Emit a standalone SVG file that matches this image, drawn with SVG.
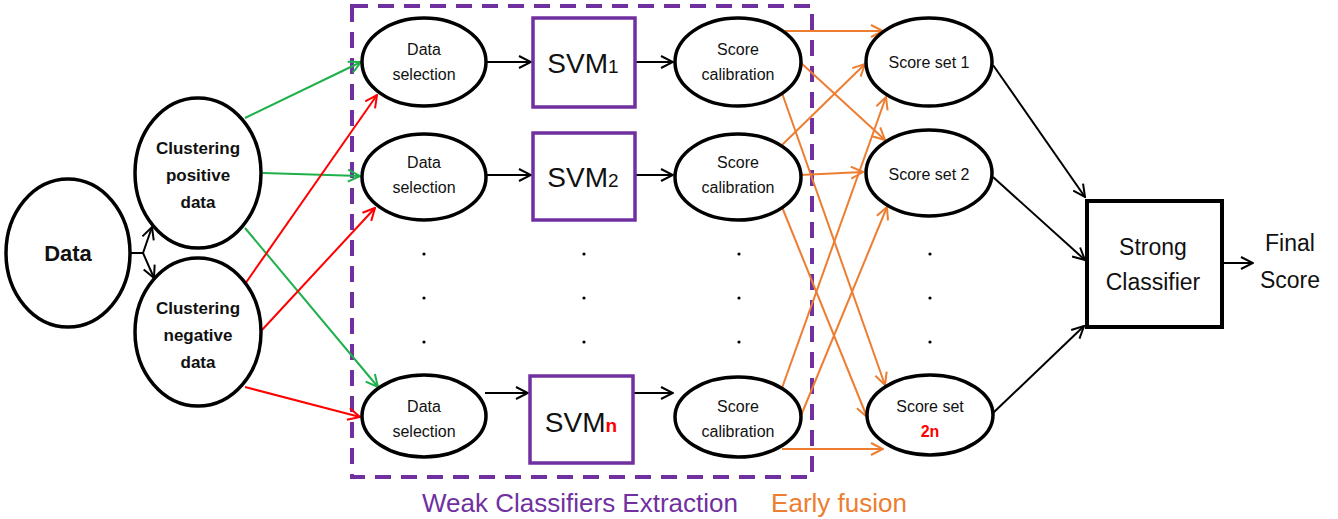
<svg xmlns="http://www.w3.org/2000/svg" width="1338" height="519" viewBox="0 0 1338 519">
<style>
text{font-family:"Liberation Sans",Arial,sans-serif;fill:#111;text-anchor:middle}
.node{fill:#fff;stroke:#000;stroke-width:3.5}
.svm{fill:#fff;stroke:#7030A0;stroke-width:3.5}
.sm{font-size:16px}
.bold{font-weight:bold}
.svmt{font-size:28px}
.k{stroke:#000;stroke-width:2;fill:none}
.g{stroke:#1DB04B;stroke-width:2;fill:none}
.r{stroke:#FF0000;stroke-width:2;fill:none}
.o{stroke:#ED7D31;stroke-width:2;fill:none}
.dot{fill:#000}
</style>
<defs>
<marker id="ak" viewBox="0 0 14 14" refX="13" refY="7" markerWidth="14" markerHeight="14" markerUnits="userSpaceOnUse" orient="auto"><path d="M1,1 L13,7 L1,13" fill="none" stroke="#000" stroke-width="2"/></marker>
<marker id="ag" viewBox="0 0 14 14" refX="13" refY="7" markerWidth="14" markerHeight="14" markerUnits="userSpaceOnUse" orient="auto"><path d="M1,1 L13,7 L1,13" fill="none" stroke="#1DB04B" stroke-width="2"/></marker>
<marker id="ar" viewBox="0 0 14 14" refX="13" refY="7" markerWidth="14" markerHeight="14" markerUnits="userSpaceOnUse" orient="auto"><path d="M1,1 L13,7 L1,13" fill="none" stroke="#FF0000" stroke-width="2"/></marker>
<marker id="ao" viewBox="0 0 14 14" refX="13" refY="7" markerWidth="14" markerHeight="14" markerUnits="userSpaceOnUse" orient="auto"><path d="M1,1 L13,7 L1,13" fill="none" stroke="#ED7D31" stroke-width="2"/></marker>
</defs>
<rect width="1338" height="519" fill="#fff"/>

<g id="weak-box">
<rect x="352" y="6" width="460" height="471" fill="none" stroke="#7030A0" stroke-width="4" stroke-dasharray="16 10"/>
</g>

<g id="connectors">
<path class="k" d="M131,253 H143"/>
<path class="k" d="M143,253 L152,227" marker-end="url(#ak)"/>
<path class="k" d="M143,253 L154,278" marker-end="url(#ak)"/>
<path class="g" d="M245,118 L361,62" marker-end="url(#ag)"/>
<path class="g" d="M263,173 L360,176" marker-end="url(#ag)"/>
<path class="g" d="M245,228 L378,387" marker-end="url(#ag)"/>
<path class="r" d="M245,284 L377,95" marker-end="url(#ar)"/>
<path class="r" d="M262,330 L375,208" marker-end="url(#ar)"/>
<path class="r" d="M245,387 L360,417" marker-end="url(#ar)"/>
<path class="k" d="M487,62 L531,62" marker-end="url(#ak)"/>
<path class="k" d="M635,62 L673,62" marker-end="url(#ak)"/>
<path class="k" d="M487,175 L531,175" marker-end="url(#ak)"/>
<path class="k" d="M635,175 L673,175" marker-end="url(#ak)"/>
<path class="k" d="M485,393 L528,393" marker-end="url(#ak)"/>
<path class="k" d="M633,393 L673,393" marker-end="url(#ak)"/>
<path class="o" d="M782,31 L883,31" marker-end="url(#ao)"/>
<path class="o" d="M800,62 L885,140" marker-end="url(#ao)"/>
<path class="o" d="M782,93 L885,385" marker-end="url(#ao)"/>
<path class="o" d="M782,145 L865,64" marker-end="url(#ao)"/>
<path class="o" d="M800,175 L863,172" marker-end="url(#ao)"/>
<path class="o" d="M782,207 L867,417" marker-end="url(#ao)"/>
<path class="o" d="M782,388 L886,97" marker-end="url(#ao)"/>
<path class="o" d="M800,418 L887,207" marker-end="url(#ao)"/>
<path class="o" d="M782,449 L883,449" marker-end="url(#ao)"/>
<path class="k" d="M993,65 L1085,197" marker-end="url(#ak)"/>
<path class="k" d="M993,177 L1085,260" marker-end="url(#ak)"/>
<path class="k" d="M993,413 L1084,326" marker-end="url(#ak)"/>
<path class="k" d="M1222,263 L1253,263" marker-end="url(#ak)"/>
</g>

<g id="data">
<ellipse class="node" cx="68" cy="253" rx="62" ry="74"/>
<text class="bold" x="68" y="261" font-size="22">Data</text>
</g>
<g id="clustering-positive">
<ellipse class="node" cx="198" cy="173" rx="63" ry="75" stroke="#1DB04B"/>
<text class="bold" font-size="17" x="198" y="154">Clustering</text>
<text class="bold" font-size="17" x="198" y="181">positive</text>
<text class="bold" font-size="17" x="198" y="208">data</text>
</g>
<g id="clustering-negative">
<ellipse class="node" cx="198" cy="332" rx="63" ry="74" stroke="#FF0000"/>
<text class="bold" font-size="17" x="198" y="314">Clustering</text>
<text class="bold" font-size="17" x="198" y="341">negative</text>
<text class="bold" font-size="17" x="198" y="368">data</text>
</g>

<g id="data-selection-1">
<ellipse class="node" cx="424" cy="62" rx="62" ry="44"/>
<text class="sm" x="424" y="55">Data</text>
<text class="sm" x="424" y="80">selection</text>
</g>
<g id="data-selection-2">
<ellipse class="node" cx="424" cy="177" rx="62" ry="43"/>
<text class="sm" x="424" y="168">Data</text>
<text class="sm" x="424" y="193">selection</text>
</g>
<g id="data-selection-n">
<ellipse class="node" cx="424" cy="416" rx="62" ry="41"/>
<text class="sm" x="424" y="412">Data</text>
<text class="sm" x="424" y="437">selection</text>
</g>

<g id="svm-1">
<rect class="svm" x="533" y="18" width="102" height="89"/>
<text class="svmt" x="583" y="73">SVM<tspan font-size="19">1</tspan></text>
</g>
<g id="svm-2">
<rect class="svm" x="533" y="133" width="102" height="87"/>
<text class="svmt" x="583" y="187">SVM<tspan font-size="19">2</tspan></text>
</g>
<g id="svm-n">
<rect class="svm" x="530" y="376" width="103" height="87"/>
<text class="svmt" x="581" y="432">SVM<tspan font-size="19" font-weight="bold" fill="#FF0000">n</tspan></text>
</g>

<g id="score-calibration-1">
<ellipse class="node" cx="738" cy="62" rx="63" ry="44"/>
<text class="sm" x="738" y="55">Score</text>
<text class="sm" x="738" y="80">calibration</text>
</g>
<g id="score-calibration-2">
<ellipse class="node" cx="738" cy="177" rx="63" ry="43"/>
<text class="sm" x="738" y="168">Score</text>
<text class="sm" x="738" y="193">calibration</text>
</g>
<g id="score-calibration-n">
<ellipse class="node" cx="738" cy="417" rx="63" ry="40"/>
<text class="sm" x="738" y="412">Score</text>
<text class="sm" x="738" y="437">calibration</text>
</g>

<g id="score-set-1">
<ellipse class="node" cx="929" cy="62" rx="63" ry="44"/>
<text class="sm" x="929" y="68">Score set 1</text>
</g>
<g id="score-set-2">
<ellipse class="node" cx="929" cy="173" rx="63" ry="43"/>
<text class="sm" x="929" y="180">Score set 2</text>
</g>
<g id="score-set-2n">
<ellipse class="node" cx="930" cy="415" rx="63" ry="40"/>
<text class="sm" x="930" y="412">Score set</text>
<text class="sm bold" x="930" y="437" fill="#FF0000" style="fill:#FF0000">2n</text>
</g>

<g id="strong-classifier">
<rect x="1087" y="201" width="135" height="126" fill="#fff" stroke="#000" stroke-width="4"/>
<text x="1153" y="255" font-size="23">Strong</text>
<text x="1153" y="290" font-size="23">Classifier</text>
</g>
<g id="final-score">
<text x="1290" y="251" font-size="23">Final</text>
<text x="1290" y="288" font-size="23">Score</text>
</g>

<g id="dots">
<circle class="dot" cx="424" cy="254" r="1.6"/><circle class="dot" cx="424" cy="298" r="1.6"/><circle class="dot" cx="424" cy="342" r="1.6"/>
<circle class="dot" cx="584" cy="254" r="1.6"/><circle class="dot" cx="584" cy="298" r="1.6"/><circle class="dot" cx="584" cy="342" r="1.6"/>
<circle class="dot" cx="739" cy="254" r="1.6"/><circle class="dot" cx="739" cy="298" r="1.6"/><circle class="dot" cx="739" cy="342" r="1.6"/>
<circle class="dot" cx="930" cy="254" r="1.6"/><circle class="dot" cx="930" cy="298" r="1.6"/><circle class="dot" cx="930" cy="342" r="1.6"/>
</g>

<g id="labels">
<text x="580" y="512" font-size="26" style="fill:#7030A0">Weak Classifiers Extraction</text>
<text x="839" y="512" font-size="26" style="fill:#ED7D31">Early fusion</text>
</g>
</svg>
